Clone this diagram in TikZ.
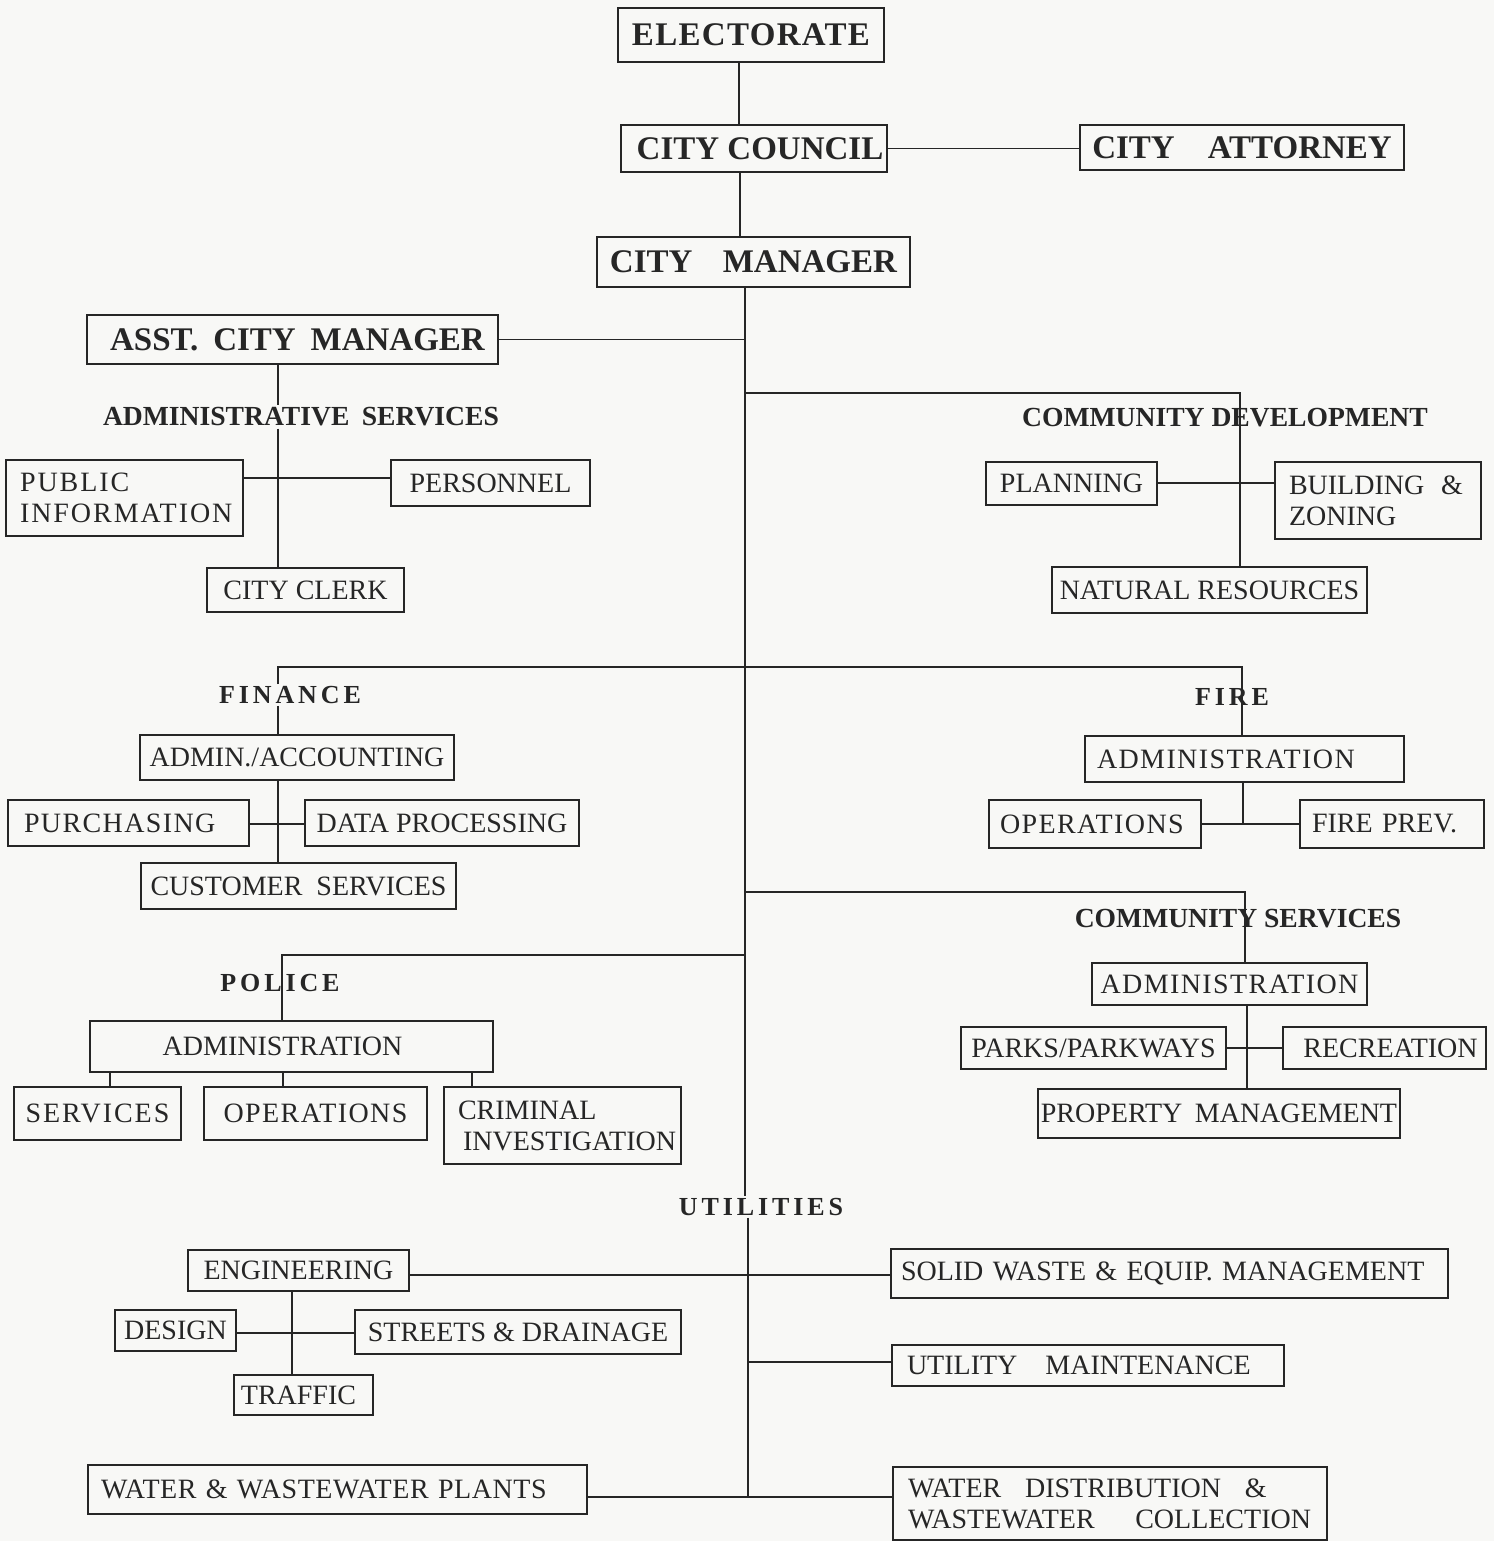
\documentclass[tikz,border=0pt]{standalone}
\usepackage{fontspec}
\setmainfont{Liberation Serif}
\newfontfamily\lsp[LetterSpace=15]{Liberation Serif}
\newfontfamily\lspe[LetterSpace=4]{Liberation Serif}
\newfontfamily\lsa[LetterSpace=5]{Liberation Serif}
\newfontfamily\lsb[LetterSpace=7]{Liberation Serif}
\newfontfamily\lsc[LetterSpace=2]{Liberation Serif}
\hyphenpenalty=10000
\exhyphenpenalty=10000
\definecolor{ink}{RGB}{38,38,38}
\definecolor{paper}{RGB}{248,248,246}
\tikzset{
  box/.style={draw=ink, line width=2pt, inner sep=0pt, text=ink, font=\fontsize{28}{31}\selectfont, align=center},
  lbox/.style={box, align=left, inner xsep=14pt},
  head/.style={draw=ink, line width=2pt, inner sep=0pt, text=ink, font=\fontsize{33}{36}\selectfont\bfseries},
  sect/.style={text=ink, inner sep=2pt, font=\fontsize{27.6}{30}\selectfont\bfseries},
  ssect/.style={text=ink, inner sep=2pt, font=\fontsize{26}{28}\selectfont\lsp\bfseries},
  wire/.style={draw=ink, line width=1.5pt},
}
\begin{document}
\begin{tikzpicture}[x=1pt,y=-1pt]
\fill[paper] (0,0) rectangle (1494,1541);
\useasboundingbox (0,0) rectangle (1494,1541);

% top
\node[head, minimum width=266pt, minimum height=54pt] (elect) at (751,35) {\lspe ELECTORATE};
\node[head, minimum width=266pt, minimum height=47pt] (council) at (754,148.5) {\hspace{12pt}CITY COUNCIL};
\node[head, minimum width=324pt, minimum height=45pt] (attorney) at (1242,147.5) {CITY\hspace{1em}ATTORNEY};
\node[head, minimum width=313pt, minimum height=50pt] (manager) at (753.5,262) {CITY\hspace{0.92em}MANAGER};
\node[head, minimum width=411pt, minimum height=49pt] (asst) at (292.5,339.5) {\hspace{10pt}ASST.\hspace{0.45em}CITY\hspace{0.45em}MANAGER};

% administrative services
\node[sect] (adminserv) at (301,417) {ADMINISTRATIVE\hspace{0.45em}SERVICES};
\node[lbox, minimum width=237pt, minimum height=76pt, text width=209pt, font=\fontsize{28}{31}\selectfont\lsb] (pubinfo) at (124.5,498) {\mbox{PUBLIC}\\\mbox{INFORMATION}};
\node[box, minimum width=199pt, minimum height=46pt] (personnel) at (490.5,483) {PERSONNEL};
\node[box, minimum width=197pt, minimum height=44pt] (clerk) at (305.5,590) {CITY CLERK};

% community development
\node[sect] (commdev) at (1225,418) {COMMUNITY DEVELOPMENT};
\node[box, minimum width=171pt, minimum height=43pt] (planning) at (1071.5,483.5) {PLANNING};
\node[lbox, minimum width=206pt, minimum height=77pt, text width=178pt, inner xsep=14pt] (building) at (1378,500.5) {\mbox{BUILDING\hspace{0.6em}\&}\\\mbox{ZONING}};
\node[box, minimum width=315pt, minimum height=46pt] (natres) at (1209.5,590) {NATURAL RESOURCES};

% finance
\node[ssect] (finance) at (290,695) {FINANCE};
\node[box, minimum width=314pt, minimum height=45pt] (adminacc) at (297,757.5) {ADMIN./ACCOUNTING};
\node[lbox, minimum width=241pt, minimum height=46pt, inner xsep=16pt, text width=209pt, font=\fontsize{28}{31}\selectfont\lsa] (purch) at (128.5,823) {PURCHASING};
\node[box, minimum width=274pt, minimum height=46pt] (dataproc) at (442,823) {DATA PROCESSING};
\node[box, minimum width=315pt, minimum height=46pt] (custserv) at (298.5,886) {CUSTOMER\hspace{0.5em}SERVICES};

% fire
\node[ssect] (fire) at (1232,697) {FIRE};
\node[lbox, minimum width=319pt, minimum height=46pt, text width=295pt, inner xsep=12pt, font=\fontsize{28}{31}\selectfont\lsa] (fireadmin) at (1244.5,759) {ADMINISTRATION};
\node[lbox, minimum width=212pt, minimum height=48pt, text width=190pt, inner xsep=11pt, font=\fontsize{28}{31}\selectfont\lsa] (fireops) at (1095,824) {OPERATIONS};
\node[lbox, minimum width=184pt, minimum height=48pt, text width=160pt, inner xsep=12pt] (fireprev) at (1392,824) {\mbox{FIRE PREV.}};

% community services
\node[sect] (commserv) at (1238,919) {COMMUNITY SERVICES};
\node[box, minimum width=275pt, minimum height=42pt, font=\fontsize{28}{31}\selectfont\lsa] (csadmin) at (1229.5,984) {ADMINISTRATION};
\node[box, minimum width=265pt, minimum height=42pt] (parks) at (1093.5,1048) {PARKS/PARKWAYS};
\node[box, minimum width=203pt, minimum height=42pt] (recreation) at (1384.5,1048) {\hspace{12pt}RECREATION};
\node[box, minimum width=362pt, minimum height=49pt] (propmgmt) at (1219,1113.5) {PROPERTY\hspace{0.45em}MANAGEMENT};

% police
\node[ssect] (police) at (280,983) {POLICE};
\node[box, minimum width=403pt, minimum height=51pt] (poladmin) at (291.5,1046.5) {ADMINISTRATION\hspace{18pt}};
\node[box, minimum width=167pt, minimum height=53pt, font=\fontsize{28}{31}\selectfont\lsb] (services) at (97.5,1113.5) {SERVICES};
\node[box, minimum width=223pt, minimum height=53pt, font=\fontsize{28}{31}\selectfont\lsa] (polops) at (315.5,1113.5) {OPERATIONS};
\node[lbox, minimum width=237pt, minimum height=77pt, text width=223pt, inner xsep=7pt] (criminal) at (562.5,1125.5) {\mbox{\hspace{7pt}CRIMINAL}\\\mbox{\hspace{12pt}INVESTIGATION}};

% utilities
\node[ssect] (utilities) at (761,1207) {UTILITIES};
\node[box, minimum width=221pt, minimum height=41pt] (engineering) at (298.5,1270.5) {ENGINEERING};
\node[lbox, minimum width=557pt, minimum height=49pt, text width=537pt, inner xsep=10pt] (solidwaste) at (1169.5,1273.5) {\mbox{SOLID WASTE \& EQUIP. MANAGEMENT}};
\node[box, minimum width=121pt, minimum height=41pt] (design) at (175.5,1330.5) {DESIGN};
\node[box, minimum width=326pt, minimum height=44pt] (streets) at (518,1332) {STREETS \& DRAINAGE};
\node[box, minimum width=139pt, minimum height=40pt] (traffic) at (303.5,1395) {TRAFFIC\hspace{10pt}};
\node[lbox, minimum width=392pt, minimum height=41pt, text width=362pt, inner xsep=15pt] (utilmaint) at (1088,1365.5) {\mbox{UTILITY\hspace{1em}MAINTENANCE}};
\node[lbox, minimum width=499pt, minimum height=49pt, text width=473pt, inner xsep=13pt, font=\fontsize{28}{31}\selectfont\lsc] (wwplants) at (337.5,1489.5) {\mbox{WATER \& WASTEWATER PLANTS}};
\node[lbox, minimum width=434pt, minimum height=73pt, text width=404pt, inner xsep=15pt] (waterdist) at (1110,1503.5) {\mbox{WATER\hspace{0.85em}DISTRIBUTION\hspace{0.85em}\&}\\\mbox{WASTEWATER\hspace{1.45em}COLLECTION}};

% junctions on the trunk
\coordinate (jasst) at (745,340);
\coordinate (jcd) at (745,393);
\coordinate (jff) at (745,667);
\coordinate (jcs) at (745,892);
\coordinate (jpol) at (745,955);
\coordinate (jend) at (748,1497);
\coordinate (jum) at (748,1362);

% connectors
\draw[wire] (elect.south -| 739,0) -- (council.north -| 739,0);
\draw[wire] (council.east) -- (council.east -| attorney.west);
\draw[wire] (council.south -| 740,0) -- (manager.north -| 740,0);
\draw[wire] (manager.south -| 745,0) -- (utilities.north -| 745,0);
\draw[wire] (asst.east) -- (asst.east -| jasst);

\draw[wire] (asst.south -| 278,0) -- (adminserv.north -| 278,0);
\draw[wire] (adminserv.south -| 278,0) -- (clerk.north -| 278,0);
\draw[wire] (pubinfo.east |- 0,478) -- (personnel.west |- 0,478);

\draw[wire] (jcd) -- (1240,393) -- (natres.north -| 1240,0);
\draw[wire] (planning.east |- 0,483) -- (building.west |- 0,483);

\draw[wire] (finance.north -| 278,0) -- (278,667) -- (jff) -- (1242,667) -- (fireadmin.north -| 1242,0);
\draw[wire] (finance.south -| 278,0) -- (adminacc.north -| 278,0);
\draw[wire] (adminacc.south -| 278,0) -- (custserv.north -| 278,0);
\draw[wire] (purch.east |- 0,824) -- (dataproc.west |- 0,824);

\draw[wire] (fireadmin.south -| 1243,0) -- (1243,824);
\draw[wire] (fireops.east |- 0,824) -- (fireprev.west |- 0,824);

\draw[wire] (jcs) -- (1245,892) -- (csadmin.north -| 1245,0);
\draw[wire] (csadmin.south -| 1247,0) -- (propmgmt.north -| 1247,0);
\draw[wire] (parks.east |- 0,1048) -- (recreation.west |- 0,1048);

\draw[wire] (jpol) -- (282,955) -- (poladmin.north -| 282,0);
\draw[wire] (poladmin.south -| 110,0) -- (services.north -| 110,0);
\draw[wire] (poladmin.south -| 283,0) -- (polops.north -| 283,0);
\draw[wire] (poladmin.south -| 472,0) -- (criminal.north -| 472,0);

\draw[wire] (utilities.south -| 748,0) -- (jend);
\draw[wire] (engineering.east |- 0,1275) -- (solidwaste.west |- 0,1275);
\draw[wire] (engineering.south -| 292,0) -- (traffic.north -| 292,0);
\draw[wire] (design.east |- 0,1333) -- (streets.west |- 0,1333);
\draw[wire] (jum) -- (utilmaint.west |- jum);
\draw[wire] (wwplants.east |- 0,1497) -- (waterdist.west |- 0,1497);
\end{tikzpicture}
\end{document}
